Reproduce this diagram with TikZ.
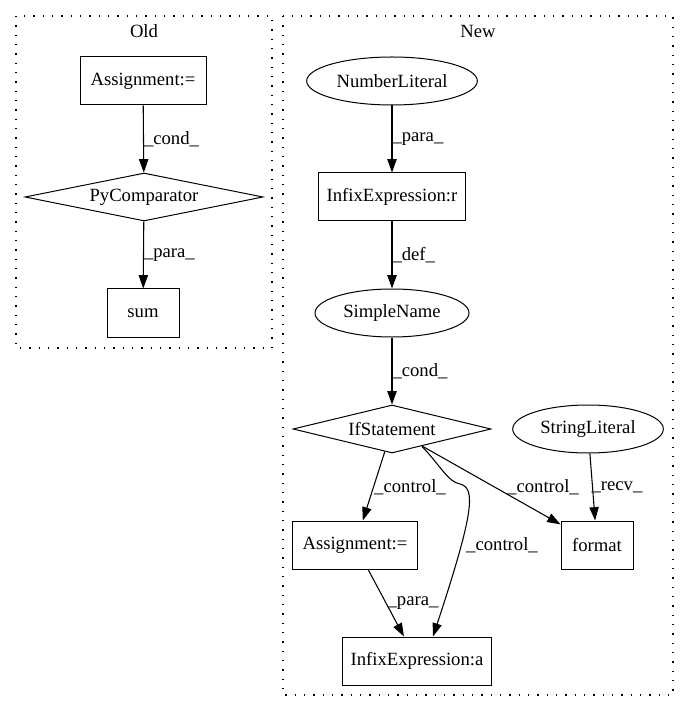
\documentclass[tikz,border=0pt]{standalone}
\usepackage{fontspec}
\setmainfont{Liberation Serif}
\usetikzlibrary{shapes,arrows.meta}

\begin{document}
\begin{tikzpicture}[x=0.75pt,y=-0.75pt]
    \tikzstyle{every node}=[font=\fontsize{14}{16}\selectfont]
    \tikzstyle{box}=[rectangle,draw,line width=0.75pt,minimum height=36pt,inner sep=0pt]
    \tikzstyle{oval}=[ellipse,draw,line width=0.75pt,minimum height=36pt,inner sep=0pt]
    \tikzstyle{cnd}=[diamond,draw,line width=0.75pt,aspect=5,minimum height=36pt,inner sep=0pt]
    \tikzstyle{edge}=[line width=0.8pt,-{Triangle[length=10pt,width=7pt]}]
    \tikzstyle{lbl}=[inner sep=0pt]
    \tikzstyle{cluster}=[line width=0.8pt,dash pattern=on 1pt off 6pt]
    \useasboundingbox (0,0) rectangle (689,712);
    % clusters
    \draw[cluster] (16,16) rectangle (272,348);
    \draw[cluster] (283,16) rectangle (673,695);
    \node (oldtitle) at (144,31) {Old};
    \node (newtitle) at (478,31) {New};
    % old
    \node[box,minimum width=94.5pt] (oassign) at (143,81) {Assignment:=};
    \node[cnd,minimum width=178.5pt] (pycomp) at (144,197) {PyComparator};
    \node[box,minimum width=54pt] (sum) at (143,313) {sum};
    \draw[edge] (oassign) -- node[lbl,right] {\_cond\_} (pycomp);
    \draw[edge] (pycomp) -- node[lbl,right] {\_para\_} (sum);
    % new
    \node[oval,minimum width=128pt] (numlit) at (392,81) {NumberLiteral};
    \node[box,minimum width=110pt] (infixr) at (392,197) {InfixExpression:r};
    \node[oval,minimum width=115.5pt] (sname) at (392,313) {SimpleName};
    \node[cnd,minimum width=148.5pt] (ifstmt) at (392,429) {IfStatement};
    \node[oval,minimum width=113pt] (strlit) at (588,429) {StringLiteral};
    \node[box,minimum width=94pt] (nassign) at (355,545) {Assignment:=};
    \node[box,minimum width=54pt] (format) at (597,545) {format};
    \node[box,minimum width=112pt] (infixa) at (417,661) {InfixExpression:a};
    \draw[edge] (numlit) -- node[lbl,right] {\_para\_} (infixr);
    \draw[edge] (infixr) -- node[lbl,right] {\_def\_} (sname);
    \draw[edge] (sname) -- node[lbl,right] {\_cond\_} (ifstmt);
    \draw[edge] (ifstmt) -- (nassign);
    \draw[edge] (ifstmt) -- (format);
    \draw[edge] ([shift={(30,-7)}]ifstmt.south) .. controls (440,465) and (448,482) .. (460,484)
        .. controls (476,488) and (474,512) .. ([xshift=12pt]infixa.north);
    \draw[edge] (strlit) -- (format);
    \draw[edge] (nassign) -- (infixa);
    \node[lbl] (l1) at (410,487) {\_control\_};
    \node[lbl] (l2) at (543,487) {\_control\_};
    \node[lbl] (l3) at (502,545) {\_control\_};
    \node[lbl] (l4) at (617,487) {\_recv\_};
    \node[lbl] (l5) at (413,603) {\_para\_};
\end{tikzpicture}
\end{document}
